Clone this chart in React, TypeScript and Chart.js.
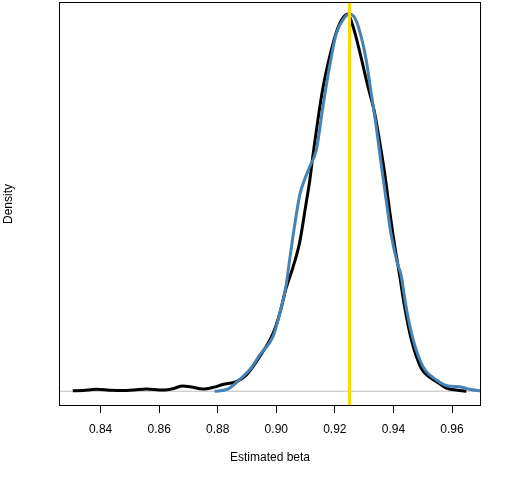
import { useEffect, useRef } from "react";
import { Chart, registerables } from "chart.js";

Chart.register(...registerables);

// Axis limits and ticks
const X_MIN = 0.8258;
const X_MAX = 0.9699;
const Y_MIN = -0.94;
const Y_MAX = 24.8;
const X_TICKS = [0.84, 0.86, 0.88, 0.9, 0.92, 0.94, 0.96];
const TRUE_BETA = 0.925;

// Black density curve
const BLACK_X = [
  0.8305, 0.834, 0.8385, 0.843, 0.847, 0.8515, 0.8556, 0.8612, 0.865, 0.868,
  0.8715, 0.8748, 0.8785, 0.8817, 0.8864, 0.8898, 0.8943, 0.8989, 0.9011,
  0.9034, 0.9057, 0.908, 0.9102, 0.9114, 0.9125, 0.9158, 0.9193, 0.9216,
  0.9244, 0.9261, 0.9284, 0.9313, 0.9335, 0.9353, 0.937, 0.9387, 0.9404,
  0.9421, 0.9438, 0.9461, 0.9495, 0.952, 0.9547, 0.9581, 0.9626, 0.9649,
];
const BLACK_Y = [
  0.03, 0.05, 0.12, 0.07, 0.04, 0.08, 0.15, 0.08, 0.18, 0.34, 0.25, 0.14, 0.25,
  0.43, 0.62, 1.04, 2.2, 3.69, 4.9, 6.6, 7.9, 9.5, 12.0, 13.4, 15.0, 19.2, 22.1,
  23.4, 24.03, 23.3, 21.7, 19.4, 17.8, 15.9, 13.9, 11.5, 9.3, 7.4, 5.4, 3.3,
  1.46, 0.95, 0.61, 0.2, 0.05, 0.0,
];

// Blue density curve
const BLUE_X = [
  0.8789, 0.8834, 0.8875, 0.8915, 0.8943, 0.8989, 0.9011, 0.9034, 0.9045,
  0.9062, 0.908, 0.9097, 0.9114, 0.9137, 0.9159, 0.9182, 0.9205, 0.9233, 0.925,
  0.9272, 0.9295, 0.9307, 0.9324, 0.9341, 0.9358, 0.9375, 0.9392, 0.9413,
  0.9426, 0.9443, 0.9467, 0.9501, 0.9547, 0.9586, 0.9626, 0.966, 0.97,
];
const BLUE_Y = [
  0.0, 0.13, 0.75, 1.5, 2.3, 3.5, 4.9, 6.8, 8.3, 10.5, 12.5, 13.5, 14.3, 15.4,
  18.1, 20.7, 22.8, 23.8, 24.03, 23.65, 22.2, 21.1, 19.0, 16.9, 14.5, 12.2,
  10.0, 8.2, 7.4, 5.4, 3.3, 1.57, 0.72, 0.34, 0.29, 0.13, 0.0,
];

const FONT = "'Liberation Sans', Arial, sans-serif";

const boxPlugin = {
  id: "rbox",
  afterDatasetsDraw(chart: any) {
    const { ctx, chartArea } = chart;
    ctx.save();
    ctx.strokeStyle = "#000000";
    ctx.lineWidth = 1;
    ctx.strokeRect(
      Math.round(chartArea.left) + 0.5,
      Math.round(chartArea.top) + 0.5,
      Math.round(chartArea.right - chartArea.left) - 1,
      Math.round(chartArea.bottom - chartArea.top) - 1
    );
    ctx.restore();
  },
};

export default function App() {
  const ref = useRef<HTMLCanvasElement | null>(null);

  useEffect(() => {
    if (!ref.current) return;
    const toPts = (xs: number[], ys: number[]) =>
      xs.map((x, i) => ({ x, y: ys[i] }));

    const chart = new Chart(ref.current, {
      type: "line",
      data: {
        datasets: [
          {
            data: [
              { x: TRUE_BETA, y: Y_MIN },
              { x: TRUE_BETA, y: Y_MAX },
            ],
            borderColor: "#FFD700",
            borderWidth: 3,
            pointRadius: 0,
            order: 0,
          },
          {
            data: toPts(BLUE_X, BLUE_Y),
            borderColor: "#4682B4",
            borderWidth: 3,
            pointRadius: 0,
            cubicInterpolationMode: "monotone",
            order: 1,
          },
          {
            data: toPts(BLACK_X, BLACK_Y),
            borderColor: "#000000",
            borderWidth: 3,
            pointRadius: 0,
            cubicInterpolationMode: "monotone",
            order: 2,
          },
          {
            data: [
              { x: X_MIN, y: 0 },
              { x: X_MAX, y: 0 },
            ],
            borderColor: "#BEBEBE",
            borderWidth: 1,
            pointRadius: 0,
            order: 3,
          },
        ],
      },
      options: {
        animation: false,
        responsive: true,
        maintainAspectRatio: false,
        layout: { padding: { top: 2, right: 31, left: 0, bottom: 0 } },
        plugins: {
          legend: { display: false },
          tooltip: { enabled: false },
        },
        scales: {
          x: {
            type: "linear",
            min: X_MIN,
            max: X_MAX,
            afterBuildTicks: (scale: any) => {
              scale.ticks = X_TICKS.map((v) => ({ value: v }));
            },
            afterFit: (scale: any) => {
              scale.height = 74;
            },
            ticks: {
              color: "#000000",
              font: { family: FONT, size: 12 },
              padding: 9,
              maxRotation: 0,
              autoSkip: false,
              callback: (v: any) => Number(v).toFixed(2),
            },
            grid: {
              drawOnChartArea: false,
              drawTicks: true,
              tickLength: 7,
              color: "#000000",
              lineWidth: 1,
            },
            border: { display: false },
            title: {
              display: true,
              text: "Estimated beta",
              color: "#000000",
              font: { family: FONT, size: 12 },
              padding: { top: 0, bottom: 15 },
            },
          },
          y: {
            type: "linear",
            min: Y_MIN,
            max: Y_MAX,
            afterFit: (scale: any) => {
              scale.width = 59;
            },
            ticks: { display: false },
            grid: { display: false },
            border: { display: false },
            title: {
              display: true,
              text: "Density",
              color: "#000000",
              font: { family: FONT, size: 12 },
              padding: { top: 1, bottom: 0 },
            },
          },
        },
      },
      plugins: [boxPlugin],
    });
    return () => chart.destroy();
  }, []);

  return (
    <div
      style={{
        position: "absolute",
        left: 0,
        top: 0,
        width: 512,
        height: 480,
        background: "#ffffff",
      }}
    >
      <canvas ref={ref} />
    </div>
  );
}
